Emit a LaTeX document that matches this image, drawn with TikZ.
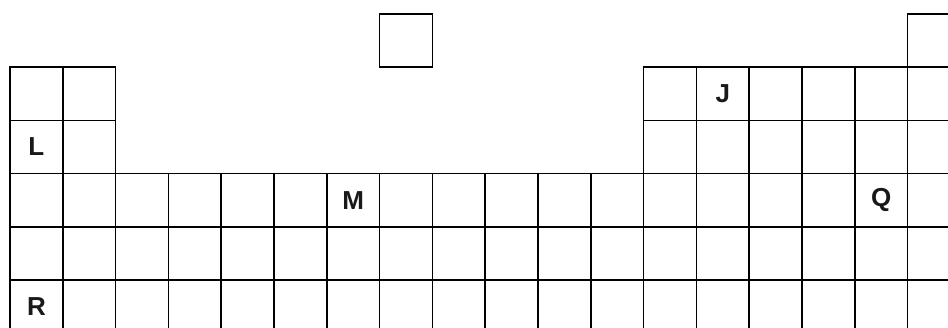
\documentclass[tikz,border=0pt]{standalone}
\usepackage{fontspec}
\setmainfont{Liberation Sans}
\usepackage{tikz}
\usetikzlibrary{positioning}

\begin{document}
\begin{tikzpicture}[
  x=52.8pt, y=-53.2pt,
  cell/.style={draw=black, line width=1.7pt, minimum width=52.8pt,
               minimum height=53.2pt, inner sep=0pt},
  sym/.style={font=\bfseries\fontsize{26}{26}\selectfont, text=black!90}
]
\useasboundingbox (-10pt,14pt) rectangle (938pt,-313pt);
\clip (-10pt,14pt) rectangle (938pt,-313pt);

% period 1
\node[cell] (c-1-8)  at (7.5,0.5)  {};
\node[cell] (c-1-18) at (17.5,0.5) {};
% periods 2 and 3
\foreach \r in {2,3}
  \foreach \c in {1,2,13,14,...,18}
    \node[cell] (c-\r-\c) at (\c-0.5,\r-0.5) {};
% periods 4 to 6
\foreach \r in {4,5,6}
  \foreach \c in {1,...,18}
    \node[cell] (c-\r-\c) at (\c-0.5,\r-0.5) {};

% lettered elements
\node[sym] (J) at (c-2-14) {J};
\node[sym] (L) at (c-3-1)  {L};
\node[sym] (M) at (c-4-7)  {M};
\node[sym] (Q) at (c-4-17) {Q};
\node[sym] (R) at (c-6-1)  {R};
\end{tikzpicture}
\end{document}
